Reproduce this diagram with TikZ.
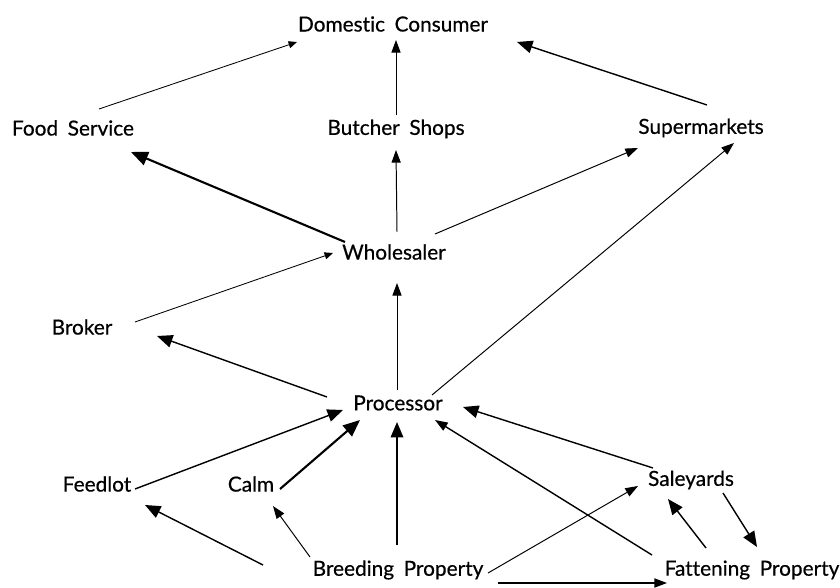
\documentclass[tikz,border=0pt]{standalone}
\usepackage{fontspec}
\setmainfont{Lato}[WordSpace=1.8, Ligatures=NoCommon, FakeBold=0.5]
\usetikzlibrary{arrows.meta}

\tikzset{
	stage/.style={inner sep=1pt, font=\fontsize{14.8}{18}\selectfont},
	lite/.style={-{Triangle[length=6pt,width=5pt]}, line width=0.6pt},
	plain/.style={-{Triangle[length=9pt,width=6.5pt]}, line width=0.7pt},
	heavy/.style={-{Triangle[length=11pt,width=9pt]}, line width=1pt},
	bold/.style={-{Triangle[length=12pt,width=10pt]}, line width=1.5pt}
}

\begin{document}
	\begin{tikzpicture}[x=0.25mm, y=-0.25mm]
		\useasboundingbox (0,0) rectangle (840,588);

		% stages of the chain
		\node[stage] (dom) at (393,24) {Domestic Consumer};
		\node[stage] (food) at (73,128) {Food Service};
		\node[stage] (butcher) at (396,129) {Butcher Shops};
		\node[stage] (super) at (701,128) {Supermarkets};
		\node[stage] (whole) at (394,252) {Wholesaler};
		\node[stage] (broker) at (82,327) {Broker};
		\node[stage] (proc) at (398,403) {Processor};
		\node[stage] (feedlot) at (97,484) {Feedlot};
		\node[stage] (calm) at (251,484) {Calm};
		\node[stage] (sale) at (691,480) {Saleyards};
		\node[stage] (breed) at (398,570) {Breeding Property};
		\node[stage] (fatt) at (752,570) {Fattening Property};

		% top level
		\draw[lite] ([shift={(26,-19)}]food.center) -- ([shift={(-96,18)}]dom.center);
		\draw[plain] ([shift={(0,-14)}]butcher.center) -- ([shift={(0,16)}]dom.center -| butcher);
		\draw[heavy] ([shift={(6,-23)}]super.center) -- ([shift={(124,18)}]dom.center);

		% from the wholesaler
		\draw[bold] ([shift={(-49,-10)}]whole.center) -- ([shift={(58,24)}]food.center);
		\draw[plain] ([shift={(3,-20)}]whole.center) -- ([shift={(0,21)}]butcher.center);
		\draw[plain] ([shift={(41,-18)}]whole.center) -- ([shift={(-63,20)}]super.center);
		\draw[lite] ([shift={(53,-5)}]broker.center) -- ([shift={(-61,1)}]whole.center);

		% from the processor
		\draw[heavy] ([shift={(-71,-6)}]proc.center) -- ([shift={(75,9)}]broker.center);
		\draw[plain] ([shift={(-1,-13)}]proc.center) -- ([shift={(-1,31)}]proc.center |- whole.center);
		\draw[plain] ([shift={(34,-8)}]proc.center) -- ([shift={(33,15)}]super.center);

		% into the processor
		\draw[heavy] ([shift={(38,5)}]feedlot.center) -- ([shift={(-55,7)}]proc.center);
		\draw[bold] ([shift={(29,5)}]calm.center) -- ([shift={(-38,17)}]proc.center);
		\draw[heavy] ([shift={(-1,-25)}]breed.center) -- ([shift={(-1,19)}]proc.center);
		\draw[plain, line width=1pt] ([shift={(-100,-15)}]fatt.center) -- ([shift={(37,17)}]proc.center);
		\draw[heavy] ([shift={(-38,-12)}]sale.center) -- ([shift={(65,4)}]proc.center);

		% farm level
		\draw[heavy] ([shift={(-135,-5)}]breed.center) -- ([shift={(48,21)}]feedlot.center);
		\draw[plain] ([shift={(-88,-13)}]breed.center) -- ([shift={(22,22)}]calm.center);
		\draw[plain] ([shift={(90,3)}]breed.center) -- ([shift={(-53,6)}]sale.center);
		\draw[plain, line width=1pt] ([shift={(100,13)}]breed.center) -- ([shift={(-85,13)}]fatt.center);
		\draw[heavy] ([shift={(-46,-22)}]fatt.center) -- ([shift={(-23,19)}]sale.center);
		\draw[heavy] ([shift={(32,13)}]sale.center) -- ([shift={(5,-23)}]fatt.center);
	\end{tikzpicture}
\end{document}
